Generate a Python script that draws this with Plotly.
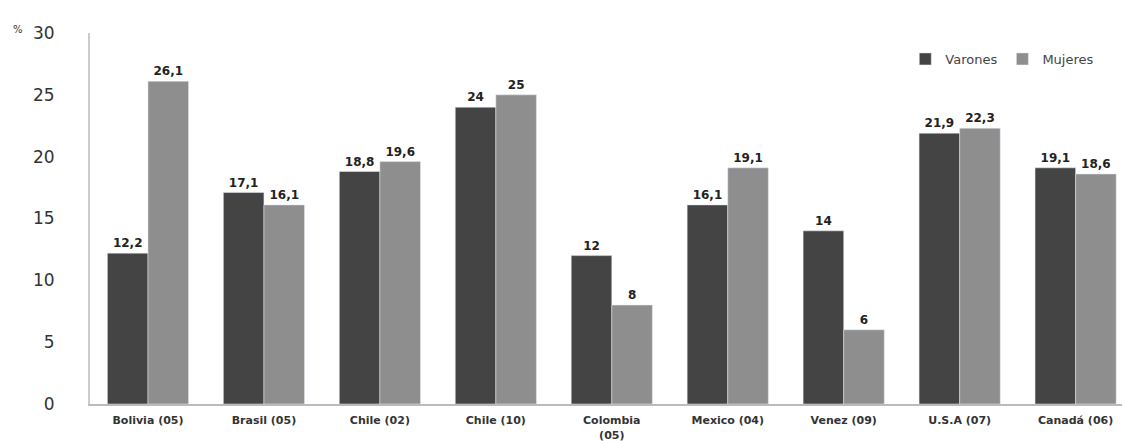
import plotly.graph_objects as go

categories = ["Bolivia (05)", "Brasil (05)", "Chile (02)", "Chile (10)", "Colombia<br>(05)",
              "Mexico (04)", "Venez (09)", "U.S.A (07)", "Canadá (06)"]
varones = [12.2, 17.1, 18.8, 24, 12, 16.1, 14, 21.9, 19.1]
mujeres = [26.1, 16.1, 19.6, 25, 8, 19.1, 6, 22.3, 18.6]
y_ticks = [0, 5, 10, 15, 20, 25, 30]

def fmt(v):
    s = ("%g" % v).replace(".", ",")
    return s

lbl_font = dict(family="DejaVu Sans", size=12, color="#222222", weight="bold")

fig = go.Figure()
fig.add_trace(go.Bar(name="Varones", x=list(range(len(categories))), y=varones,
                     marker_color="#444444", text=[fmt(v) for v in varones],
                     textposition="outside", cliponaxis=False, textfont=lbl_font))
fig.add_trace(go.Bar(name="Mujeres", x=list(range(len(categories))), y=mujeres,
                     marker_color="#8e8e8e", text=[fmt(v) for v in mujeres],
                     textposition="outside", cliponaxis=False, textfont=lbl_font))

fig.update_layout(
    width=1122, height=441,
    margin=dict(l=90, r=0, t=33, b=37),
    plot_bgcolor="white", paper_bgcolor="white",
    barmode="group", bargap=0.3, bargroupgap=0,
    font=dict(family="DejaVu Sans", color="#333333"),
    legend=dict(orientation="h", x=0.79, y=0.93, xanchor="left", yanchor="middle",
                font=dict(size=13, color="#444444"), bgcolor="rgba(0,0,0,0)",
                itemwidth=30, traceorder="normal"),
    xaxis=dict(tickmode="array", tickvals=list(range(len(categories))), ticktext=categories,
               range=[-0.5, 8.4], showline=True, linecolor="#bbbbbb", linewidth=2,
               ticks="", tickfont=dict(family="DejaVu Sans", size=11, color="#333333", weight="bold"),
               ticklabelstandoff=5, showgrid=False),
    yaxis=dict(range=[0, 30], tickvals=y_ticks, showline=True, linecolor="#cccccc",
               linewidth=2, showgrid=False, ticks="", ticklabelstandoff=30,
               tickfont=dict(family="DejaVu Sans", size=17, color="#333333"), zeroline=False),
)
fig.add_annotation(text="%", xref="paper", yref="paper", x=-0.07, y=1.01,
                   showarrow=False, font=dict(size=10, color="#333333"),
                   xanchor="center", yanchor="middle")
fig.write_html("out.html")
